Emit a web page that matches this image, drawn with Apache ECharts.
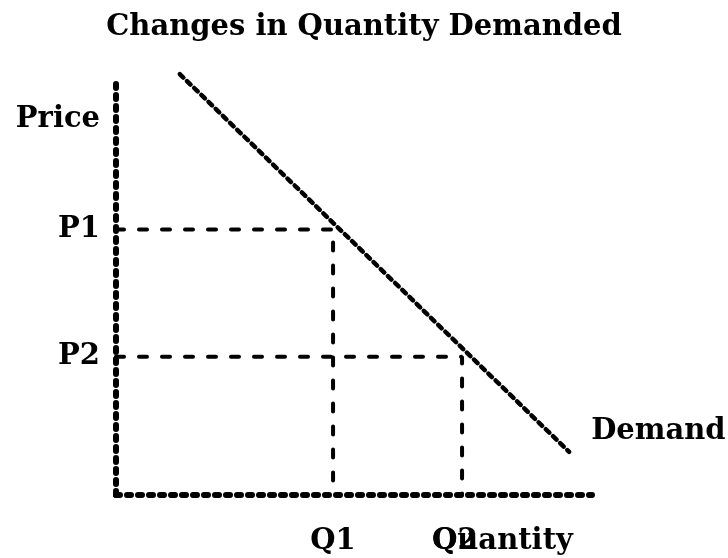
<!DOCTYPE html>
<html>
<head>
<meta charset="utf-8">
<script src="https://cdn.jsdelivr.net/npm/echarts@6/dist/echarts.min.js"></script>
<style>
    html, body { margin: 0; padding: 0; background: #fff; }
    #chart { width: 728px; height: 558px; }
</style>
</head>
<body>
<div id="chart"></div>
<script>
    // demand curve end points (quantity, price)
    var demandLine = [[13.4, 100.7], [95.2, 10.3]];
    // the two price / quantity pairs
    var priceLevels = [63.5, 33.1];
    var quantityLevels = [45.6, 72.7];
    // tick labels
    var yTickValues = [33.1, 63.5, 89.9];
    var yTickLabels = ['P2', 'P1', 'Price'];
    var xTickValues = [45.6, 71.2];
    var xTickLabels = ['Q1', 'Q2'];

    var font = 'DejaVu Serif';

    function pick(values, labels, v) {
        for (var i = 0; i < values.length; i++) {
            if (Math.abs(values[i] - v) < 0.01) return labels[i];
        }
        return '';
    }

    function guide(i) {
        return {
            type: 'line',
            data: [[0, priceLevels[i]], [quantityLevels[i], priceLevels[i]], [quantityLevels[i], 0]],
            symbol: 'none',
            silent: true,
            lineStyle: { color: '#000', width: 4, type: [8, 15], cap: 'round' }
        };
    }

    var chart = echarts.init(document.getElementById('chart'));
    chart.setOption({
        animation: false,
        title: {
            text: 'Changes in Quantity Demanded',
            left: 'center',
            top: 8,
            textStyle: { fontFamily: font, fontWeight: 'bold', fontSize: 29, color: '#000' }
        },
        grid: { left: 116, right: 136, top: 77, bottom: 63 },
        xAxis: {
            type: 'value',
            min: 0,
            max: 100,
            name: 'Quantity',
            nameLocation: 'end',
            nameGap: -160,
            nameMoveOverlap: false,
            nameTextStyle: {
                fontFamily: font,
                fontWeight: 'bold',
                fontSize: 29,
                color: '#000',
                align: 'left',
                verticalAlign: 'top',
                padding: [32, 0, 0, 0]
            },
            splitLine: { show: false },
            axisTick: { show: false },
            axisLine: { lineStyle: { color: '#000', width: 6, type: [4, 7], cap: 'round' } },
            axisLabel: {
                customValues: xTickValues,
                margin: 32,
                fontFamily: font,
                fontWeight: 'bold',
                fontSize: 29,
                color: '#000',
                formatter: function (v) { return pick(xTickValues, xTickLabels, v); }
            }
        },
        yAxis: {
            type: 'value',
            min: 0,
            max: 100,
            splitLine: { show: false },
            axisTick: { show: false },
            axisLine: { lineStyle: { color: '#000', width: 6, type: [4, 7], cap: 'round' } },
            axisLabel: {
                customValues: yTickValues,
                margin: 16,
                fontFamily: font,
                fontWeight: 'bold',
                fontSize: 29,
                color: '#000',
                formatter: function (v) { return pick(yTickValues, yTickLabels, v); }
            }
        },
        series: [
            guide(0),
            guide(1),
            {
                type: 'line',
                data: demandLine,
                symbol: 'none',
                clip: false,
                lineStyle: { color: '#000', width: 4.5, type: [5, 5], cap: 'round' },
                endLabel: {
                    show: true,
                    formatter: 'Demand',
                    offset: [14, -20],
                    fontFamily: font,
                    fontWeight: 'bold',
                    fontSize: 29,
                    color: '#000'
                }
            }
        ]
    });
</script>
</body>
</html>
